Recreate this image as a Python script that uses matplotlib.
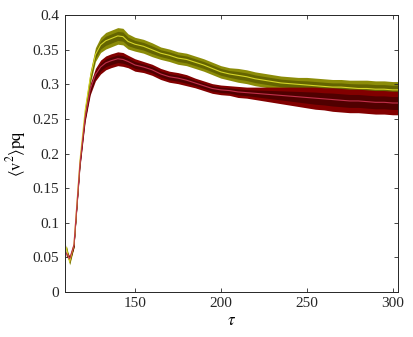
import numpy as np
import matplotlib
matplotlib.use("Agg")
import matplotlib.pyplot as plt

# time axis (tau) and the two ensemble curves
tau = [110, 112, 114.5, 118, 121, 124, 127, 130, 133, 136, 140, 143, 146, 150,
       155, 160, 165, 170, 175, 180, 185, 190, 195, 200, 205, 210, 215, 220,
       225, 230, 235, 240, 245, 250, 255, 260, 265, 270, 275, 280, 285, 290,
       295, 300, 303]

olive_mean = [0.064, 0.043, 0.068, 0.190, 0.262, 0.310, 0.343, 0.357, 0.363,
              0.366, 0.370, 0.369, 0.362, 0.358, 0.355, 0.350, 0.345, 0.342,
              0.338, 0.336, 0.332, 0.328, 0.323, 0.318, 0.315, 0.313, 0.311,
              0.308, 0.306, 0.304, 0.302, 0.301, 0.300, 0.299, 0.298, 0.297,
              0.296, 0.296, 0.295, 0.294, 0.294, 0.293, 0.293, 0.292, 0.292]
olive_outer = [0.004, 0.004, 0.004, 0.005, 0.007, 0.009, 0.010, 0.011, 0.012,
               0.012, 0.012, 0.012, 0.011, 0.010, 0.010, 0.010, 0.009, 0.009,
               0.009, 0.009, 0.009, 0.009, 0.009, 0.009, 0.009, 0.010, 0.010,
               0.010, 0.010, 0.010, 0.010, 0.010, 0.010, 0.011, 0.011, 0.011,
               0.011, 0.011, 0.011, 0.012, 0.012, 0.012, 0.012, 0.012, 0.012]

red_mean = [0.056, 0.048, 0.068, 0.185, 0.252, 0.293, 0.314, 0.325, 0.331,
            0.334, 0.337, 0.336, 0.333, 0.328, 0.325, 0.321, 0.315, 0.311,
            0.309, 0.306, 0.302, 0.298, 0.294, 0.292, 0.291, 0.289, 0.288,
            0.287, 0.286, 0.285, 0.284, 0.283, 0.282, 0.281, 0.280, 0.279,
            0.278, 0.277, 0.276, 0.276, 0.275, 0.274, 0.274, 0.273, 0.273]
red_outer = [0.004, 0.004, 0.004, 0.005, 0.006, 0.008, 0.009, 0.010, 0.010,
             0.010, 0.010, 0.010, 0.009, 0.009, 0.008, 0.008, 0.008, 0.008,
             0.008, 0.008, 0.007, 0.007, 0.007, 0.007, 0.007, 0.008, 0.008,
             0.009, 0.010, 0.011, 0.012, 0.013, 0.014, 0.015, 0.016, 0.016,
             0.017, 0.017, 0.017, 0.017, 0.017, 0.017, 0.017, 0.017, 0.017]

yticks = [0, 0.05, 0.1, 0.15, 0.2, 0.25, 0.3, 0.35, 0.4]
ytick_labels = ["0", "0.05", "0.1", "0.15", "0.2", "0.25", "0.3", "0.35", "0.4"]
xticks = [150, 200, 250, 300]

plt.rcParams["font.family"] = ["Liberation Serif", "DejaVu Serif"]
plt.rcParams["mathtext.fontset"] = "stix"

fig = plt.figure(figsize=(4.13, 3.37), dpi=100)
ax = fig.add_axes([0.157, 0.134, 0.807, 0.821])


def band(ax, t, m, w, c_out, c_in, c_line):
    t = np.array(t)
    m = np.array(m)
    w = np.array(w)
    ax.fill_between(t, m - w, m + w, color=c_out, lw=0)
    ax.fill_between(t, m - 0.55 * w, m + 0.55 * w, color=c_in, lw=0)
    ax.plot(t, m, color=c_line, lw=0.8)


band(ax, tau, olive_mean, olive_outer, "#8c8c08", "#646400", "#d4d428")
band(ax, tau, red_mean, red_outer, "#820000", "#500000", "#c0304a")

ax.set_xlim(109.2, 303.2)
ax.set_ylim(0, 0.4)
ax.set_xticks(xticks)
ax.set_yticks(yticks)
ax.set_yticklabels(ytick_labels)
ax.tick_params(direction="in", top=True, right=True, labelsize=11,
               length=3, width=0.6, colors="#262626", pad=4)
for s in ax.spines.values():
    s.set_color("#262626")
    s.set_linewidth(0.7)

ax.set_xlabel(r"$\tau$", fontsize=12, labelpad=2)
ax.set_ylabel(r"$\left\langle \mathrm{v}^2 \right\rangle\mathrm{pq}$", fontsize=12, labelpad=3)

fig.savefig("out.png", dpi=100)
